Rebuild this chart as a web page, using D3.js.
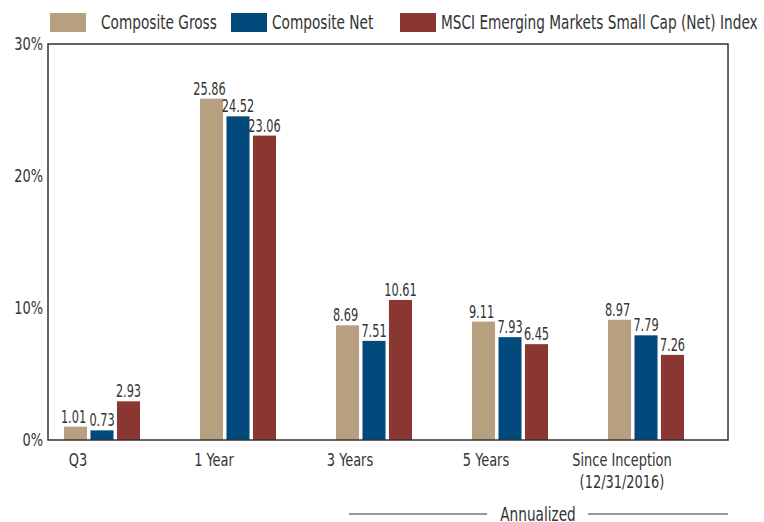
<!DOCTYPE html>
<html>
<head>
<meta charset="utf-8">
<script src="https://cdn.jsdelivr.net/npm/d3@7"></script>
<style>
  html, body { margin: 0; padding: 0; background: #fff; }
  svg { display: block; }
  text { font-family: "DejaVu Sans Condensed", "DejaVu Sans", sans-serif; fill: #333; }
</style>
</head>
<body>
<svg id="chart" width="764" height="522"></svg>
<script>
// ---- data ----
const categories = ["Q3", "1 Year", "3 Years", "5 Years", "Since Inception|(12/31/2016)"];
const seriesNames = ["Composite Gross", "Composite Net", "MSCI Emerging Markets Small Cap (Net) Index"];
// bar heights as drawn in the picture
const grossValues = [1.01, 25.86, 8.69, 8.97, 9.11];
const netValues   = [0.73, 24.52, 7.51, 7.79, 7.93];
const msciValues  = [2.93, 23.06, 10.61, 7.26, 6.45];
// printed value labels
const grossLabels = ["1.01", "25.86", "8.69", "9.11", "8.97"];
const netLabels   = ["0.73", "24.52", "7.51", "7.93", "7.79"];
const msciLabels  = ["2.93", "23.06", "10.61", "6.45", "7.26"];
const yTicks = [0, 10, 20, 30];
const yTickLabels = ["0%", "10%", "20%", "30%"];
const bottomNote = "Annualized";

const colors = ["#b7a07f", "#034a7c", "#8a3731"];
const seriesValues = [grossValues, netValues, msciValues];
const seriesLabels = [grossLabels, netLabels, msciLabels];

const K = 0.8; // horizontal condensation of text
function condense(sel, k) {
  sel.each(function() {
    const w = this.getComputedTextLength();
    if (w > 0) d3.select(this).attr("textLength", w * k).attr("lengthAdjust", "spacingAndGlyphs");
  });
}

const svg = d3.select("#chart");
const mLeft = 48, mRight = 728, mTop = 44, mBottom = 440;

const y = d3.scaleLinear().domain([0, 30]).range([mBottom, mTop]);
const x0 = d3.scalePoint().domain(categories).range([102, 646]);
const x1 = d3.scaleBand().domain(d3.range(3)).range([-38, 38]).paddingInner(0.13);

// bars
const groups = svg.append("g").selectAll("g")
  .data(categories).join("g")
  .attr("transform", d => `translate(${x0(d)},0)`);

groups.each(function(cat, ci) {
  const g = d3.select(this);
  const rows = d3.range(3).map(si => ({si, v: seriesValues[si][ci], lab: seriesLabels[si][ci]}));
  g.selectAll("rect").data(rows).join("rect")
    .attr("x", d => x1(d.si))
    .attr("width", x1.bandwidth())
    .attr("y", d => y(d.v))
    .attr("height", d => y(0) - y(d.v))
    .attr("fill", d => colors[d.si]);
  g.selectAll("text").data(rows).join("text")
    .attr("x", d => x1(d.si) + x1.bandwidth() / 2 - (d.si === 0 ? 2 : 0))
    .attr("y", d => y(d.v) - 4)
    .attr("text-anchor", "middle")
    .attr("font-size", 17)
    .text(d => d.lab)
    .call(condense, 0.74);
});

// frame
svg.append("rect")
  .attr("x", mLeft).attr("y", mTop)
  .attr("width", mRight - mLeft).attr("height", mBottom - mTop)
  .attr("fill", "none").attr("stroke", "#333").attr("stroke-width", 1.5);

// y axis
const yAxis = d3.axisLeft(y).tickValues(yTicks).tickSize(0).tickPadding(5)
  .tickFormat((d, i) => yTickLabels[i]);
const yg = svg.append("g").attr("transform", `translate(${mLeft},0)`).call(yAxis);
yg.select(".domain").remove();
yg.selectAll("text").attr("font-size", 18).attr("font-family", null).style("fill", "#333").call(condense, K);

// x labels
const xl = svg.append("g").selectAll("text").data(categories).join("text")
  .attr("x", d => x0(d) - 24)
  .attr("y", 466)
  .attr("text-anchor", "middle")
  .attr("font-size", 18);
xl.each(function(d) {
  const parts = d.split("|");
  d3.select(this).selectAll("tspan").data(parts).join("tspan")
    .attr("x", x0(d) - 24)
    .attr("dy", (p, i) => i === 0 ? 0 : 22)
    .text(p => p)
    .call(condense, K);
});

// legend
const legendX = [50, 231, 400];
const lg = svg.append("g");
seriesNames.forEach((name, i) => {
  lg.append("rect").attr("x", legendX[i]).attr("y", 13).attr("width", 36).attr("height", 19).attr("fill", colors[i]);
  lg.append("text").attr("x", legendX[i] + (i === 0 ? 51 : 41)).attr("y", 29).attr("font-size", 19).text(name).call(condense, K);
});

// annualized note
svg.append("line").attr("x1", 349).attr("x2", 487).attr("y1", 514).attr("y2", 514).attr("stroke", "#333").attr("stroke-width", 1);
svg.append("line").attr("x1", 588).attr("x2", 728).attr("y1", 514).attr("y2", 514).attr("stroke", "#333").attr("stroke-width", 1);
svg.append("text").attr("x", 538).attr("y", 521).attr("text-anchor", "middle").attr("font-size", 19).text(bottomNote).call(condense, K);
</script>
</body>
</html>
